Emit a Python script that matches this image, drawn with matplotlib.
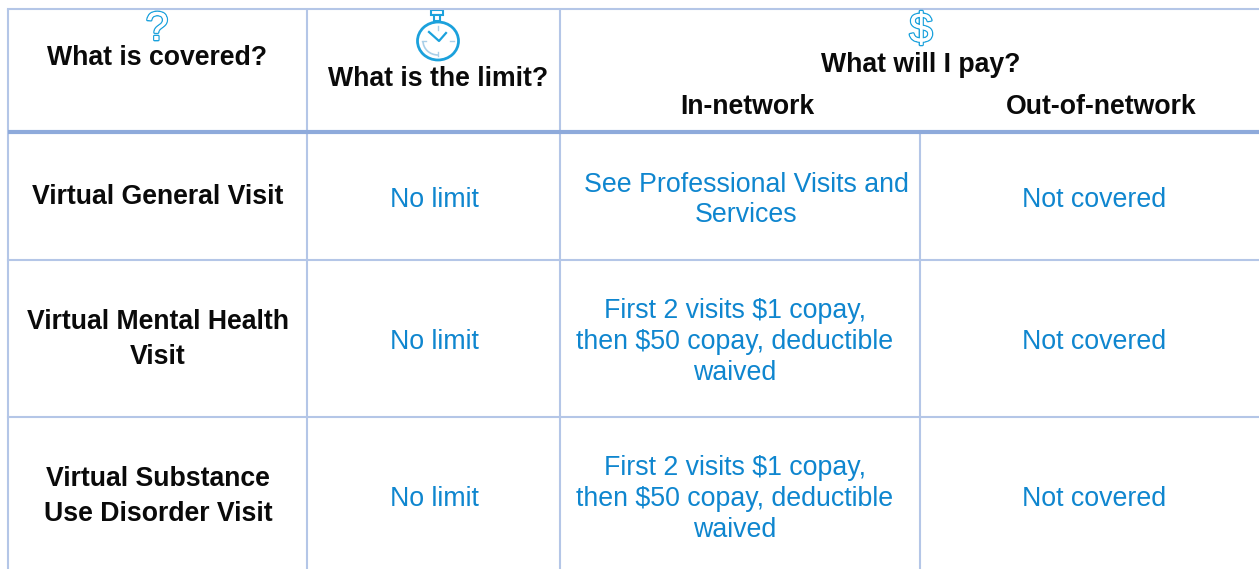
import matplotlib.pyplot as plt
import matplotlib.patheffects as pe
from matplotlib.patches import Ellipse, Rectangle, Arc

plt.rcParams['font.family'] = ['Liberation Sans', 'DejaVu Sans']

# table text
rows = ['Virtual General Visit', 'Virtual Mental Health\nVisit', 'Virtual Substance\nUse Disorder Visit']
limits = ['No limit', 'No limit', 'No limit']
in_network = ['See Professional Visits and\nServices',
              'First 2 visits $1 copay,\nthen $50 copay, deductible\nwaived',
              'First 2 visits $1 copay,\nthen $50 copay, deductible\nwaived']
out_network = ['Not covered', 'Not covered', 'Not covered']

row_y = [197, 339.5, 496.5]
row_x = 158
limit_x = 434
in_x = [746, 735, 735]
out_x = 1094
in_y = [200, 342, 499]

BLUE = '#0f86cf'
LINE = '#b4c6e7'
HEAD = '#8eaadb'
ICON = '#1ba1dc'
FAINT = '#a9cfe8'

fig = plt.figure(figsize=(12.59, 5.69), dpi=100)
ax = fig.add_axes([0, 0, 1, 1])
ax.set_xlim(0, 1259)
ax.set_ylim(569, 0)
ax.axis('off')

# grid lines
for x, y0 in [(8, 9), (307, 9), (560, 9), (920, 132)]:
    ax.plot([x, x], [y0, 569], color=LINE, lw=1.5, solid_capstyle='butt')
ax.plot([8, 1259], [9, 9], color=LINE, lw=1.5)
ax.plot([8, 1259], [132, 132], color=HEAD, lw=3, solid_capstyle='butt')
ax.plot([8, 1259], [260, 260], color=LINE, lw=1.5)
ax.plot([8, 1259], [417, 417], color=LINE, lw=1.5)

# header
head = dict(fontsize=19.2, fontweight='bold', color='#0a0a0a', ha='center', va='center')
ax.text(157, 58, 'What is covered?', **head)
ax.text(438, 79, 'What is the limit?', **head)
ax.text(921, 65, 'What will I pay?', **head)
ax.text(747, 107, 'In-network', **head)
ax.text(1101, 107, 'Out-of-network', **head)

# icons
outline = [pe.withStroke(linewidth=2, foreground=ICON), pe.Normal()]
ax.text(157, 29, '?', fontsize=29, color='white', ha='center', va='center',
        path_effects=outline)
ax.text(921, 31, '$', fontsize=30, color='white', ha='center', va='center',
        path_effects=outline)

ax.add_patch(Rectangle((431, 10), 12, 5, fc='white', ec=ICON, lw=1.5))
ax.add_patch(Rectangle((434, 15), 6, 6, fc='white', ec=ICON, lw=1.5))
ax.add_patch(Ellipse((438, 41), 41, 38, fc='white', ec=ICON, lw=2))
ax.plot([429, 439, 446], [32, 41, 33], color=ICON, lw=1.6)
ax.add_patch(Arc((438, 41), 30, 28, theta1=90, theta2=180, color=FAINT, lw=1.2))
for x0, y0, x1, y1 in [(438, 26, 438, 30), (438, 52, 438, 56), (422, 41, 426, 41), (450, 41, 454, 41)]:
    ax.plot([x0, x1], [y0, y1], color=FAINT, lw=1)

# body
body = dict(fontsize=19.3, ha='center', va='center', color=BLUE, linespacing=1.24)
for i in range(3):
    ax.text(row_x, row_y[i], rows[i], fontsize=19.2, fontweight='bold', color='#0a0a0a',
            ha='center', va='center', linespacing=1.45)
    ax.text(limit_x, in_y[i], limits[i], **body)
    ax.text(in_x[i], in_y[i], in_network[i], **body)
    ax.text(out_x, in_y[i], out_network[i], **body)

fig.savefig('out.png', dpi=100)
